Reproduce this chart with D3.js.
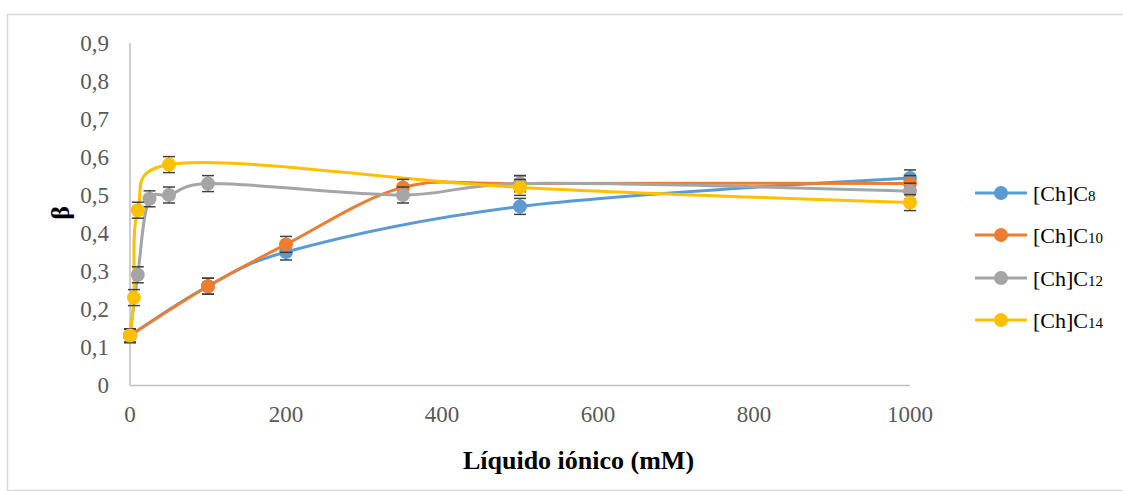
<!DOCTYPE html>
<html><head><meta charset="utf-8">
<script src="https://cdn.jsdelivr.net/npm/d3@7"></script>
<style>body{margin:0;background:#fff}svg{display:block}text{font-family:"Liberation Serif","Times New Roman",Tinos,serif}</style>
</head><body><svg id="c" width="1123" height="491"></svg>
<script>
const seriesNames = ["C8","C10","C12","C14"];
const seriesSubs = ["8","10","12","14"];
const colors = ["#5b9bd5","#ed7d31","#a5a5a5","#ffc000"];
const c8x = [0,100,200,500,1000];
const c8y = [0.13,0.26,0.35,0.47,0.545];
const c10x = [0,100,200,350,500,1000];
const c10y = [0.13,0.26,0.37,0.52,0.53,0.53];
const c12x = [0,10,25,50,100,350,500,1000];
const c12y = [0.13,0.29,0.49,0.50,0.53,0.50,0.53,0.51];
const c14x = [0,5,10,50,500,1000];
const c14y = [0.13,0.23,0.46,0.58,0.52,0.48];
const errC8 = [0.018,0.021,0.021,0.021,0.021];
const errC10 = [0.018,0.021,0.021,0.021,0.021,0.021];
const errC12 = [0.018,0.021,0.021,0.021,0.021,0.021,0.021,0.021];
const errC14 = [0.018,0.021,0.021,0.021,0.021,0.021];
const xTicks = [0,200,400,600,800,1000];
const yTicks = [0,0.1,0.2,0.3,0.4,0.5,0.6,0.7,0.8,0.9];

const xs=[c8x,c10x,c12x,c14x], ys=[c8y,c10y,c12y,c14y], es=[errC8,errC10,errC12,errC14];
const svg=d3.select("#c");
svg.append("rect").attr("x",7.5).attr("y",14.5).attr("width",1130).attr("height",476)
  .attr("fill","none").attr("stroke","#d9d9d9").attr("stroke-width",1.5);
const x=d3.scaleLinear().domain([0,1000]).range([130,910]);
const y=d3.scaleLinear().domain([0,0.9]).range([385,43]);

svg.append("line").attr("x1",x(0)).attr("x2",x(1000)).attr("y1",y(0)+0.5).attr("y2",y(0)+0.5).attr("stroke","#bfbfbf").attr("stroke-width",1.5);
svg.append("line").attr("x1",x(0)).attr("x2",x(0)).attr("y1",y(0.9)).attr("y2",y(0)).attr("stroke","#bfbfbf").attr("stroke-width",1.5);

const fmt=d=>d3.format(".1f")(d).replace(".",",");
svg.selectAll(".yt").data(yTicks).join("text").attr("x",109).attr("y",d=>y(d)).attr("dy","0.35em")
  .attr("text-anchor","end").attr("font-size",23).attr("fill","#595959")
  .text(d=>d===0?"0":fmt(d));
svg.selectAll(".xt").data(xTicks).join("text").attr("x",d=>x(d)).attr("y",414).attr("dy","0.35em")
  .attr("text-anchor","middle").attr("font-size",23).attr("fill","#595959")
  .text(d=>d);

svg.append("text").attr("x",578.5).attr("y",469).attr("text-anchor","middle")
  .attr("font-size",26).attr("font-weight","bold").text("Líquido iónico (mM)");
svg.append("text").attr("transform","translate(69,213) rotate(-90)").attr("text-anchor","middle")
  .attr("font-size",26).attr("font-weight","bold").text("β");

const line=d3.line().x(d=>x(d[0])).y(d=>y(d[1])).curve(d3.curveCatmullRom.alpha(0.2));
for(let i=0;i<4;i++){
  const pts=xs[i].map((v,j)=>[v,ys[i][j],es[i][j]]);
  svg.append("path").attr("d",line(pts)).attr("fill","none").attr("stroke",colors[i]).attr("stroke-width",3);
}
for(let i=0;i<4;i++){
  const pts=xs[i].map((v,j)=>[v,ys[i][j],es[i][j]]);
  const g=svg.append("g");
  pts.forEach(p=>{
    const cx=x(p[0]);
    g.append("line").attr("x1",cx).attr("x2",cx).attr("y1",y(p[1]+p[2])).attr("y2",y(p[1]-p[2])).attr("stroke","#404040").attr("stroke-width",1.2);
    [p[1]+p[2],p[1]-p[2]].forEach(v=>g.append("line").attr("x1",cx-6).attr("x2",cx+6).attr("y1",y(v)).attr("y2",y(v)).attr("stroke","#404040").attr("stroke-width",1.5));
  });
  g.selectAll("circle").data(pts).join("circle").attr("cx",d=>x(d[0])).attr("cy",d=>y(d[1])).attr("r",7).attr("fill",colors[i]);
}

const ly=[193,235,278,320];
for(let i=0;i<4;i++){
  const g=svg.append("g");
  g.append("line").attr("x1",975).attr("x2",1027).attr("y1",ly[i]).attr("y2",ly[i]).attr("stroke",colors[i]).attr("stroke-width",3);
  g.append("circle").attr("cx",1001).attr("cy",ly[i]).attr("r",7).attr("fill",colors[i]);
  const t=g.append("text").attr("x",1033).attr("y",ly[i]).attr("dy","0.35em").attr("font-size",22).attr("fill","#000");
  t.append("tspan").text("[Ch]C");
  t.append("tspan").attr("font-size",15).text(seriesSubs[i]);
}
</script></body></html>
